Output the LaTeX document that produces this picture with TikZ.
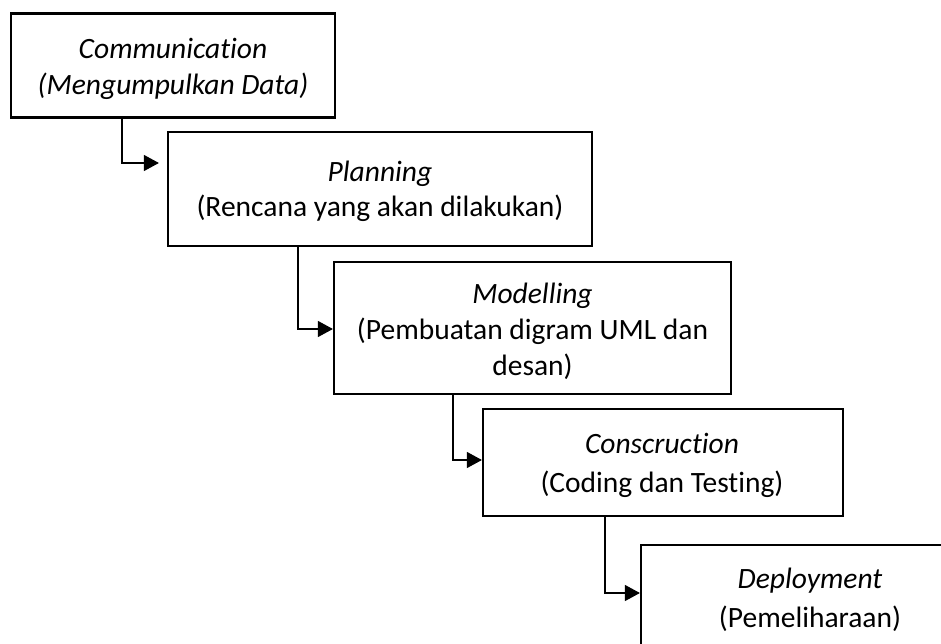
\documentclass[tikz,border=0pt]{standalone}
\usepackage{fontspec}
\setmainfont[Ligatures=NoCommon]{Carlito}
\usetikzlibrary{arrows.meta}
\tikzset{
  stage/.style={draw=black, line width=2.2pt, rectangle, inner sep=0pt},
  lbl/.style={anchor=base, inner sep=0pt, font=\fontsize{29.5}{36}\selectfont},
  conn/.style={draw=black, line width=1.2pt, -{Triangle[length=15pt,width=16pt]}}
}
\begin{document}
\begin{tikzpicture}[x=1pt,y=-1pt]
\useasboundingbox (0,0) rectangle (941,644);
% boxes
\node[stage, minimum width=324pt, minimum height=104pt] (b1) at (173,65.5) {};
\node[stage, minimum width=424pt, minimum height=114pt] (b2) at (380,189) {};
\node[stage, minimum width=397pt, minimum height=132pt] (b3) at (532.5,328) {};
\node[stage, minimum width=360pt, minimum height=107pt] (b4) at (663,462.5) {};
\node[stage, minimum width=338pt, minimum height=106pt] (b5) at (810,598) {};
% texts
\node[lbl] (t1a) at (173,59) {\textit{Communication}};
\node[lbl] (t1b) at (173,94.5) {\textit{(Mengumpulkan Data)}};
\node[lbl] (t2a) at (380,182) {\textit{Planning}};
\node[lbl] (t2b) at (380,217) {(Rencana yang akan dilakukan)};
\node[lbl] (t3a) at (532.5,303) {\textit{Modelling}};
\node[lbl] (t3b) at (532.5,339) {(Pembuatan digram UML dan};
\node[lbl] (t3c) at (532.5,375) {desan)};
\node[lbl] (t4a) at (662,453.5) {\textit{Conscruction}};
\node[lbl] (t4b) at (662,492) {(Coding dan Testing)};
\node[lbl] (t5a) at (810,588) {\textit{Deployment}};
\node[lbl] (t5b) at (810,627) {(Pemeliharaan)};
% connectors
\coordinate (k1) at (122,163);
\coordinate (k2) at (298,329);
\coordinate (k3) at (453,460);
\coordinate (k4) at (605,593);
\draw[conn] (b1.south -| k1) -- (k1) -- ([xshift=-8pt]b2.west |- k1);
\draw[conn] (b2.south -| k2) -- (k2) -- (b3.west |- k2);
\draw[conn] (b3.south -| k3) -- (k3) -- (b4.west |- k3);
\draw[conn] (b4.south -| k4) -- (k4) -- (b5.west |- k4);
\end{tikzpicture}
\end{document}
